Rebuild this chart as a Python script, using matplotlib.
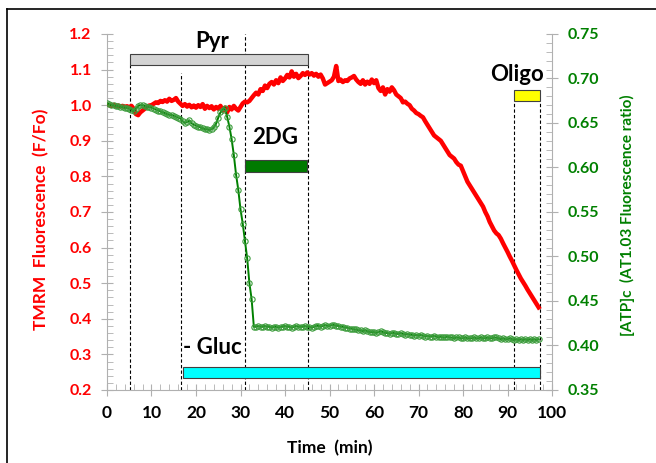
import matplotlib
matplotlib.use("Agg")
import matplotlib.pyplot as plt
from matplotlib.ticker import MultipleLocator, FormatStrFormatter
from matplotlib.lines import Line2D
import numpy as np

plt.rcParams["font.family"] = ["Lato", "DejaVu Sans"]
plt.rcParams["font.weight"] = "bold"

# sampling grid (min)
time = np.arange(0, 97.5, 0.5)

# TMRM fluorescence (F/Fo), left axis
tmrm = [
    1.002, 1.000, 0.998, 1.001, 0.997, 0.999, 0.996, 0.998, 0.995, 0.997,
    0.994, 0.998, 0.990, 0.975, 0.972, 0.980, 0.985, 0.990, 0.996, 0.999,
    1.000, 1.004, 1.008, 1.006, 1.012, 1.009, 1.014, 1.010, 1.018, 1.012,
    1.015, 1.020, 1.010, 1.004, 0.998, 1.003, 0.996, 1.001, 0.994, 0.999,
    0.993, 1.000, 0.995, 1.003, 0.990, 0.998, 0.992, 0.997, 0.988, 0.995,
    0.990, 0.998, 0.985, 0.993, 0.980, 0.995, 0.988, 0.998, 0.990, 0.985,
    0.995, 1.005, 1.010, 1.008, 1.012, 1.020, 1.028, 1.035, 1.030, 1.045,
    1.040, 1.055, 1.048, 1.060, 1.065, 1.058, 1.070, 1.062, 1.078, 1.068,
    1.075, 1.085, 1.078, 1.095, 1.080, 1.088, 1.076, 1.082, 1.090, 1.085,
    1.092, 1.086, 1.090, 1.083, 1.088, 1.080, 1.086, 1.075, 1.058, 1.062,
    1.066, 1.070, 1.080, 1.110, 1.068, 1.072, 1.065, 1.070, 1.068, 1.075,
    1.078, 1.082, 1.072, 1.065, 1.060, 1.070, 1.058, 1.066, 1.060, 1.072,
    1.062, 1.070, 1.048, 1.040, 1.050, 1.030, 1.045, 1.038, 1.050, 1.042,
    1.030, 1.025, 1.020, 1.008, 1.010, 1.004, 1.000, 0.990, 0.985, 0.978,
    0.975, 0.970, 0.966, 0.955, 0.945, 0.935, 0.925, 0.915, 0.910, 0.905,
    0.900, 0.890, 0.880, 0.870, 0.860, 0.855, 0.850, 0.840, 0.833, 0.830,
    0.815, 0.800, 0.785, 0.775, 0.765, 0.755, 0.745, 0.735, 0.725, 0.715,
    0.700, 0.688, 0.672, 0.660, 0.648, 0.640, 0.635, 0.625, 0.612, 0.600,
    0.588, 0.575, 0.563, 0.550, 0.537, 0.525, 0.513, 0.503, 0.493, 0.482,
    0.472, 0.462, 0.452, 0.442, 0.432,
]

# [ATP]c (AT1.03 ratio), right axis
atp = [
    0.672, 0.671, 0.670, 0.670, 0.669, 0.669, 0.668, 0.668, 0.667, 0.667,
    0.666, 0.665, 0.663, 0.666, 0.669, 0.670, 0.670, 0.669, 0.668, 0.668,
    0.667, 0.666, 0.665, 0.664, 0.663, 0.662, 0.661, 0.660, 0.659, 0.659,
    0.658, 0.657, 0.656, 0.655, 0.652, 0.650, 0.651, 0.653, 0.650, 0.648,
    0.647, 0.646, 0.645, 0.644, 0.643, 0.643, 0.642, 0.643, 0.645, 0.649,
    0.656, 0.662, 0.665, 0.667, 0.657, 0.646, 0.632, 0.614, 0.592, 0.575,
    0.553, 0.537, 0.517, 0.498, 0.470, 0.452, 0.421, 0.421, 0.422, 0.421,
    0.421, 0.422, 0.421, 0.421, 0.420, 0.421, 0.421, 0.420, 0.421, 0.421,
    0.422, 0.421, 0.421, 0.420, 0.421, 0.422, 0.421, 0.421, 0.421, 0.422,
    0.421, 0.421, 0.420, 0.421, 0.422, 0.422, 0.421, 0.422, 0.423, 0.422,
    0.422, 0.423, 0.423, 0.422, 0.422, 0.421, 0.421, 0.420, 0.420, 0.419,
    0.419, 0.418, 0.418, 0.417, 0.417, 0.416, 0.417, 0.416, 0.415, 0.415,
    0.415, 0.414, 0.415, 0.416, 0.415, 0.414, 0.414, 0.413, 0.414, 0.414,
    0.413, 0.413, 0.414, 0.413, 0.412, 0.413, 0.412, 0.412, 0.411, 0.412,
    0.411, 0.412, 0.411, 0.410, 0.411, 0.410, 0.410, 0.411, 0.410, 0.409,
    0.410, 0.409, 0.409, 0.410, 0.409, 0.409, 0.408, 0.409, 0.409, 0.408,
    0.408, 0.409, 0.408, 0.408, 0.408, 0.409, 0.408, 0.408, 0.409, 0.408,
    0.408, 0.409, 0.408, 0.408, 0.409, 0.409, 0.408, 0.407, 0.408, 0.407,
    0.407, 0.408, 0.407, 0.406, 0.407, 0.406, 0.407, 0.406, 0.407, 0.406,
    0.407, 0.406, 0.407, 0.406, 0.407,
]

# treatment bars (left-axis units)
bar_names = ["Pyr", "2DG", "Oligo", "- Gluc"]
bar_start = [5.2, 31.0, 91.5, 17.0]
bar_end = [45.2, 45.0, 97.3, 97.3]
bar_low = [1.113, 0.812, 1.012, 0.235]
bar_high = [1.145, 0.846, 1.043, 0.265]
bar_colors = ["#d3d3d3", "#007a00", "#ffff00", "#00ffff"]
label_x = [23.6, 37.8, 92.1, 17.0]
label_y = [1.178, 0.908, 1.085, 0.318]
label_ha = ["center", "center", "center", "left"]

# dashed event markers: time, top of line
event_t = [5.2, 16.7, 31.0, 45.2, 91.5, 97.3]
event_top = [1.113, 1.09, 1.2, 1.113, 1.012, 1.012]

fig = plt.figure(figsize=(6.56, 4.63), dpi=100)
ax = fig.add_axes([0.1631, 0.1577, 0.6784, 0.7689])
ax2 = ax.twinx()

for t, top in zip(event_t, event_top):
    ax.plot([t, t], [0.2, top], ls=(0, (3, 2)), color="black", lw=0.8, zorder=1)

for lo, hi, s, e, c in zip(bar_low, bar_high, bar_start, bar_end, bar_colors):
    ax.barh((lo + hi) / 2, e - s, left=s, height=hi - lo, color=c,
            edgecolor="#404040", linewidth=0.8, zorder=3)
for name, x, y, ha in zip(bar_names, label_x, label_y, label_ha):
    ax.text(x, y, name, ha=ha, va="center", fontsize=16, fontweight="bold")

ax.plot(time, tmrm, color="red", lw=3.2, zorder=4)
ax2.plot(time, atp, color="#008000", lw=1.4, marker="o", ms=3.8,
         mfc="none", mec="#3c9c3c", mew=0.8)

ax.set_xlim(0, 100)
ax.set_ylim(0.2, 1.2)
ax2.set_ylim(0.35, 0.75)

ax.xaxis.set_major_locator(MultipleLocator(10))
ax.xaxis.set_minor_locator(MultipleLocator(2))
ax.yaxis.set_major_locator(MultipleLocator(0.1))
ax.yaxis.set_minor_locator(MultipleLocator(0.02))
ax.yaxis.set_major_formatter(FormatStrFormatter("%.1f"))
ax2.yaxis.set_major_locator(MultipleLocator(0.05))
ax2.yaxis.set_minor_locator(MultipleLocator(0.01))
ax2.yaxis.set_major_formatter(FormatStrFormatter("%.2f"))

gray = "#b0b0b0"
for a in (ax, ax2):
    a.spines["top"].set_visible(False)
    for s in ("left", "right", "bottom"):
        a.spines[s].set_color(gray)
    a.tick_params(which="major", direction="inout", length=8, color=gray)
    a.tick_params(which="minor", direction="in", length=4, color=gray)
ax.spines["right"].set_visible(False)
ax2.spines["left"].set_visible(False)
ax2.spines["bottom"].set_visible(False)

ax.tick_params(axis="x", labelsize=12.5, pad=7)
ax.tick_params(axis="y", labelsize=11.5, pad=7, labelcolor="red")
ax2.tick_params(axis="y", labelsize=11.5, pad=7, labelcolor="#008000")

ax.set_xlabel("Time  (min)", fontsize=12.5, fontweight="bold")
ax.xaxis.set_label_coords(0.501, -0.14)
ax.set_ylabel("TMRM  Fluorescence  (F/Fo)", fontsize=12.5, fontweight="bold", color="red")
ax.yaxis.set_label_coords(-0.13, 0.48)
ax2.set_ylabel("[ATP]c  (AT1.03 Fluorescence ratio)", fontsize=11,
               fontweight="bold", color="#008000")
ax2.yaxis.set_label_coords(1.153, 0.49)

# outer frame (partly cropped)
fig.add_artist(Line2D([7 / 656, 7 / 656], [0, 1 - 9 / 463], color="black", lw=1.2))
fig.add_artist(Line2D([7 / 656, 1], [1 - 9 / 463, 1 - 9 / 463], color="black", lw=1.2))

fig.savefig("out.png", dpi=100)
